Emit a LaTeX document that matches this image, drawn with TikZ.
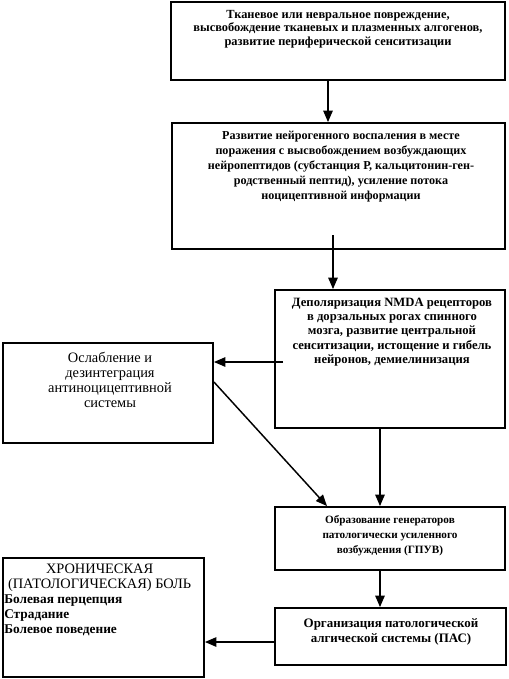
\documentclass[tikz,border=0pt]{standalone}
\usepackage{fontspec}
\setmainfont{Liberation Serif}
\usetikzlibrary{arrows.meta}
\begin{document}
\begin{tikzpicture}[x=0.75pt,y=-0.75pt,
  box/.style={draw,line width=1.4pt,inner sep=0pt},
  txt/.style={anchor=north,align=center,inner sep=0pt},
  arr/.style={line width=1.1pt,-{Triangle[length=8.5pt,width=7pt]}}]
\useasboundingbox (0,0) rectangle (508,679);
% boxes
\node[box,minimum width=250.5pt,minimum height=58.5pt] (b1) at (338,41) {};
\node[box,minimum width=249.75pt,minimum height=94.5pt] (b2) at (338.5,186) {};
\node[box,minimum width=172.5pt,minimum height=103.5pt] (b3) at (390,359) {};
\node[box,minimum width=157.5pt,minimum height=75pt] (bA) at (108,393) {};
\node[box,minimum width=172.5pt,minimum height=47.25pt] (b4) at (390,538.5) {};
\node[box,minimum width=173.25pt,minimum height=42.75pt] (b5) at (390.5,636.5) {};
\node[box,minimum width=150.75pt,minimum height=89.25pt] (bB) at (103.5,617.5) {};
% texts
\node[txt,font=\bfseries\fontsize{9.3}{10.1}\selectfont] (t1) at (338,10) {Тканевое или невральное повреждение,\\высвобождение тканевых и плазменных алгогенов,\\развитие периферической сенситизации};
\node[txt,font=\bfseries\fontsize{9.1}{11.25}\selectfont] (t2) at (341,131) {Развитие нейрогенного воспаления в месте\\поражения с высвобождением возбуждающих\\нейропептидов (субстанция Р, кальцитонин-ген-\\родственный пептид), усиление потока\\ноцицептивной информации};
\node[txt,font=\bfseries\fontsize{9.5}{10.6}\selectfont] (t3) at (392,298) {Деполяризация NMDA рецепторов\\в дорзальных рогах спинного\\мозга, развитие центральной\\сенситизации, истощение и гибель\\нейронов, демиелинизация};
\node[txt,font=\fontsize{10.8}{11.25}\selectfont] (tA) at (110,352) {Ослабление и\\дезинтеграция\\антиноцицептивной\\системы};
\node[txt,font=\bfseries\fontsize{8.4}{11.25}\selectfont] (t4) at (390,515) {Образование генераторов\\патологически усиленного\\возбуждения (ГПУВ)};
\node[txt,font=\bfseries\fontsize{9.7}{11.25}\selectfont] (t5) at (391,618) {Организация патологической\\алгической системы (ПАС)};
\node[inner sep=0pt,anchor=north west,font=\fontsize{10.8}{11.25}\selectfont] (tB) at (4,564) {\parbox{143pt}{\centering ХРОНИЧЕСКАЯ\\(ПАТОЛОГИЧЕСКАЯ) БОЛЬ\par\raggedright\bfseries\fontsize{10}{11.25}\selectfont Болевая перцепция\\Страдание\\Болевое поведение}};
% connectors
\coordinate (x1) at (328,0);
\coordinate (s2) at (333,235);
\coordinate (s3) at (283,362);
\coordinate (dA) at (0,382);
\coordinate (d4) at (327,0);
\coordinate (x4) at (380,0);
\coordinate (s5) at (0,642);
\draw[arr] (b1.south -| x1) -- (b2.north -| x1);
\draw[arr] (s2) -- (b3.north -| s2);
\draw[arr] (s3) -- (bA.east |- s3);
\draw[arr] (bA.east |- dA) -- (b4.north -| d4);
\draw[arr] (b3.south -| x4) -- (b4.north -| x4);
\draw[arr] (b4.south -| x4) -- (b5.north -| x4);
\draw[arr] (b5.west |- s5) -- (bB.east |- s5);
\end{tikzpicture}
\end{document}
